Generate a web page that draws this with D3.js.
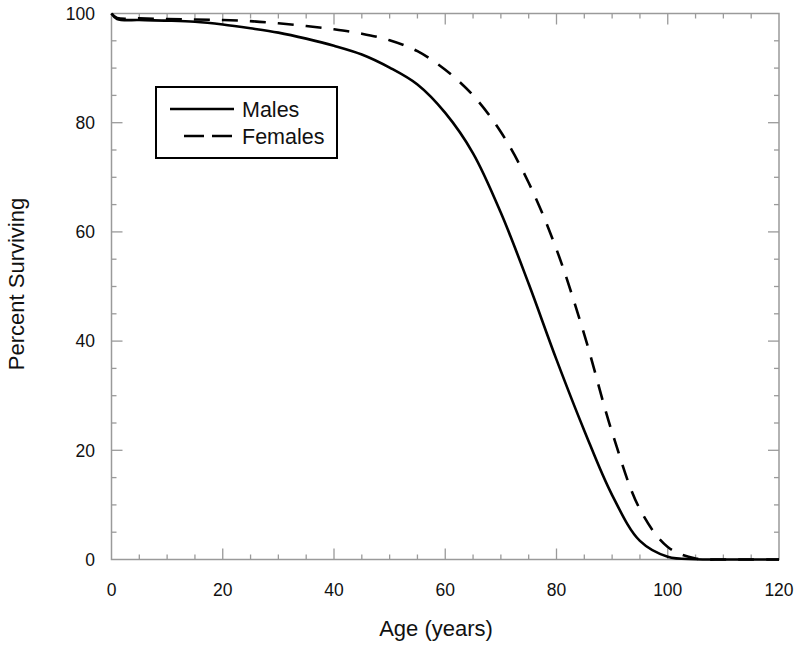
<!DOCTYPE html>
<html>
<head>
<meta charset="utf-8">
<script src="https://cdn.jsdelivr.net/npm/d3@7"></script>
<style>
  html, body { margin: 0; padding: 0; background: #fff; }
  svg { display: block; font-family: "Liberation Sans", Arial, sans-serif; }
</style>
</head>
<body>
<svg id="chart" width="800" height="647"></svg>
<script>
const ages    = [0, 1, 5, 10, 15, 20, 25, 30, 35, 40, 45, 50, 55, 60, 65, 70, 75, 80, 85, 90, 95, 100, 105, 110, 115, 120];
const males   = [100, 99.0, 98.8, 98.7, 98.5, 98.0, 97.3, 96.5, 95.4, 94.1, 92.5, 90.1, 87.0, 81.8, 74.4, 63.5, 50.5, 36.6, 23.6, 11.8, 3.4, 0.5, 0.05, 0, 0, 0];
const females = [100, 99.2, 99.1, 99.0, 98.9, 98.8, 98.6, 98.2, 97.7, 97.1, 96.3, 95.1, 93.1, 89.7, 85.0, 78.3, 69.0, 56.8, 41.2, 23.3, 9.2, 2.3, 0.2, 0, 0, 0];
const xTicks = [0, 20, 40, 60, 80, 100, 120];
const yTicks = [0, 20, 40, 60, 80, 100];
const seriesNames = ["Males", "Females"];
const xTitle = "Age (years)";
const yTitle = "Percent Surviving";

const svg = d3.select("#chart");
const pL = 111.5, pR = 779, pT = 13.5, pB = 559.5;
const x = d3.scaleLinear().domain([0, 120]).range([pL, pR]);
const y = d3.scaleLinear().domain([0, 100]).range([pB, pT]);
const frameColor = "#9a9a9a";

const minorX = d3.range(0, 121, 5);
const minorY = d3.range(0, 101, 5);

// frame
svg.append("rect").attr("x", pL).attr("y", pT)
  .attr("width", pR - pL).attr("height", pB - pT)
  .attr("fill", "none").attr("stroke", frameColor).attr("stroke-width", 1.5);

const tickLen = v => (v % 20 === 0 ? 11 : 5);
const g = svg.append("g").attr("stroke", frameColor).attr("stroke-width", 1.3);
minorX.forEach(v => {
  if (v === 0 || v === 120) return;
  g.append("line").attr("x1", x(v)).attr("x2", x(v)).attr("y1", pB).attr("y2", pB - tickLen(v));
  g.append("line").attr("x1", x(v)).attr("x2", x(v)).attr("y1", pT).attr("y2", pT + tickLen(v));
});
minorY.forEach(v => {
  if (v === 0 || v === 100) return;
  g.append("line").attr("y1", y(v)).attr("y2", y(v)).attr("x1", pL).attr("x2", pL + tickLen(v));
  g.append("line").attr("y1", y(v)).attr("y2", y(v)).attr("x1", pR).attr("x2", pR - tickLen(v));
});

// tick labels
svg.append("g").selectAll("text").data(xTicks).join("text")
  .attr("x", d => x(d)).attr("y", 595.5)
  .attr("text-anchor", "middle").attr("font-size", 17.5).attr("fill", "#111")
  .text(d => d);
svg.append("g").selectAll("text").data(yTicks).join("text")
  .attr("x", 95).attr("y", d => y(d) + 6.3)
  .attr("text-anchor", "end").attr("font-size", 17.5).attr("fill", "#111")
  .text(d => d);

// axis titles
svg.append("text").attr("x", 436).attr("y", 636)
  .attr("text-anchor", "middle").attr("font-size", 22).attr("fill", "#111").text(xTitle);
svg.append("text").attr("transform", "translate(24,284) rotate(-90)")
  .attr("text-anchor", "middle").attr("font-size", 22).attr("fill", "#111").text(yTitle);

// lines
const line = d3.line().x((d, i) => x(ages[i])).y(d => y(d)).curve(d3.curveCatmullRom.alpha(0.5));
svg.append("path").datum(females).attr("d", line)
  .attr("fill", "none").attr("stroke", "#000").attr("stroke-width", 2.6)
  .attr("stroke-dasharray", "16,12");
svg.append("path").datum(males).attr("d", line)
  .attr("fill", "none").attr("stroke", "#000").attr("stroke-width", 2.6);

// legend
const lg = svg.append("g");
lg.append("rect").attr("x", 156).attr("y", 87).attr("width", 181).attr("height", 71)
  .attr("fill", "#fff").attr("stroke", "#000").attr("stroke-width", 2);
lg.append("line").attr("x1", 170).attr("x2", 234).attr("y1", 109).attr("y2", 109)
  .attr("stroke", "#000").attr("stroke-width", 2.6);
lg.append("line").attr("x1", 184).attr("x2", 232).attr("y1", 136).attr("y2", 136)
  .attr("stroke", "#000").attr("stroke-width", 2.6).attr("stroke-dasharray", "20,8");
lg.append("text").attr("x", 242).attr("y", 117).attr("font-size", 21.5).attr("fill", "#111").text(seriesNames[0]);
lg.append("text").attr("x", 242).attr("y", 144).attr("font-size", 21.5).attr("fill", "#111").text(seriesNames[1]);
</script>
</body>
</html>
